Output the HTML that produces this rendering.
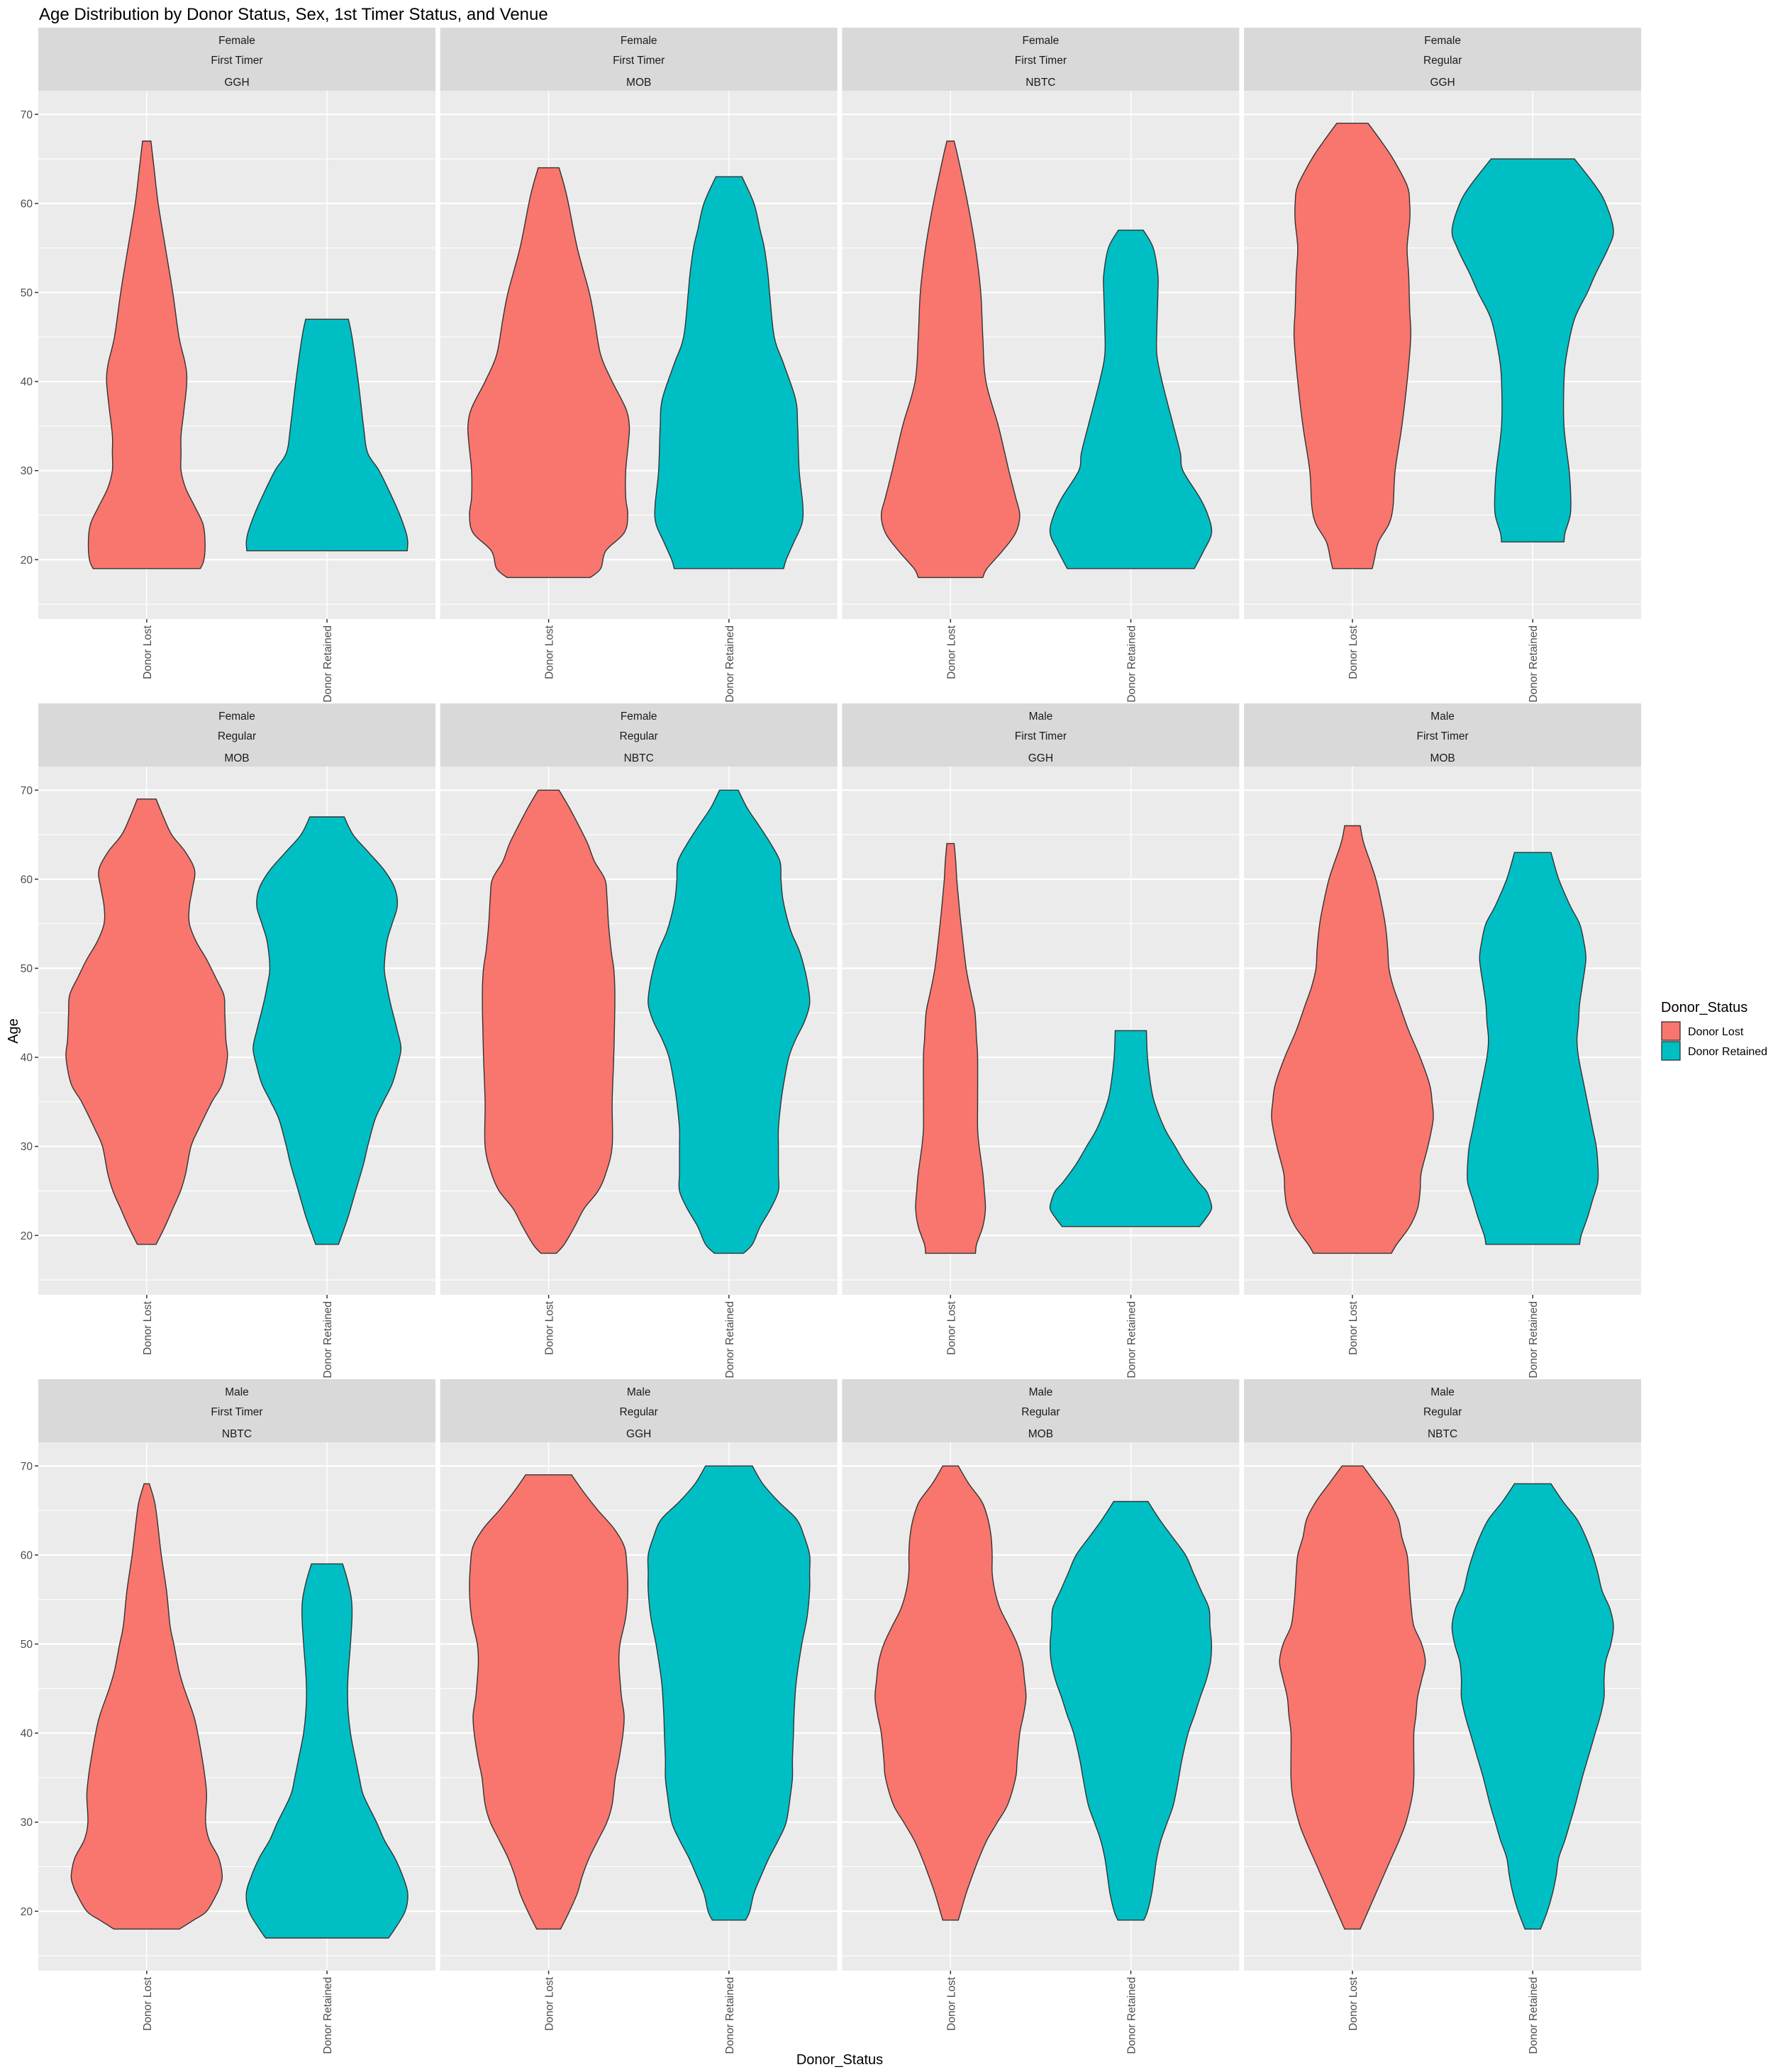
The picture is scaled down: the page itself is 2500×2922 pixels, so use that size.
<!DOCTYPE html>
<html><head><meta charset="utf-8"><style>
html,body{margin:0;padding:0;background:#fff;}
svg{display:block;font-family:"Liberation Sans",Arial,sans-serif;}
</style></head><body>
<svg id="chart" width="2500" height="2922" viewBox="0 0 2500 2922" xmlns="http://www.w3.org/2000/svg">
<text x="55" y="28" font-size="24" fill="#000">Age Distribution by Donor Status, Sex, 1st Timer Status, and Venue</text>
<g id="panels"></g>
<text x="1184" y="2911" font-size="20" text-anchor="middle" fill="#000">Donor_Status</text>
<text transform="translate(25,1454) rotate(-90)" font-size="20" text-anchor="middle" fill="#000">Age</text>
<g>
<text x="2342" y="1427" font-size="20" fill="#000">Donor_Status</text>
<rect x="2343" y="1441" width="26" height="26" fill="#F8766D" stroke="#333" stroke-width="1.3"/>
<rect x="2343" y="1469" width="26" height="26" fill="#00BFC4" stroke="#333" stroke-width="1.3"/>
<text x="2380" y="1460" font-size="16" fill="#000">Donor Lost</text>
<text x="2380" y="1488" font-size="16" fill="#000">Donor Retained</text>
</g>
</svg>
<script>
const facetSex = ["Female","Female","Female","Female","Female","Female","Male","Male","Male","Male","Male","Male"];
const facetTimer = ["First Timer","First Timer","First Timer","Regular","Regular","Regular","First Timer","First Timer","First Timer","Regular","Regular","Regular"];
const facetVenue = ["GGH","MOB","NBTC","GGH","MOB","NBTC","GGH","MOB","NBTC","GGH","MOB","NBTC"];
const categories = ["Donor Lost","Donor Retained"];
const yTicks = [20,30,40,50,60,70];
const yMinor = [15,25,35,45,55,65];
const maxDensity = 156;
const lostAges = [
 [67,64,60,55,50,45,42,40,37,34,32,30,28,26,24,22,20,19],
 [64,62,60,55,50,47,43,40,37,35,33,30,27,25,23,21,19,18],
 [67,65,60,55,50,45,40,35,30,27,25,23,21,19,18],
 [69,67,65,62,60,58,55,52,48,45,40,35,30,26,24,22,20,19],
 [69,67,65,63,61,59,57,55,53,51,49,47,45,42,40,37,35,32,30,27,25,23,21,19],
 [70,68,66,64,62,60,58,55,52,50,48,45,40,35,30,27,25,23,21,19,18],
 [64,62,60,58,55,50,47,45,42,40,35,32,30,27,25,23,21,19,18],
 [66,64,60,56,54,52,50,48,46,43,40,37,35,33,30,27,25,23,21,19,18],
 [68,66,64,60,56,52,50,47,45,42,40,37,35,33,30,28,26,24,23,22,20,19,18],
 [69,67,65,63,61,59,56,53,50,48,46,44,42,40,37,35,32,30,28,26,24,22,20,18],
 [70,68,66,64,62,60,58,56,54,52,50,48,46,44,42,40,37,35,32,30,28,26,24,22,19],
 [70,68,66,64,62,60,58,56,54,52,50,48,46,44,42,40,37,35,33,30,28,26,24,22,20,18]
];
const lostDens = [
 [8,14,22,36,50,62,74,77,72,66,66,66,75,92,108,112,110,103],
 [20,30,38,55,78,88,100,122,148,155,153,148,148,152,145,110,100,80],
 [7,15,33,48,58,62,68,92,112,125,133,125,100,70,62],
 [30,55,78,105,110,110,105,108,110,112,105,95,82,78,70,50,42,38],
 [18,32,48,75,92,88,82,82,95,115,132,148,150,152,155,145,125,100,85,75,65,50,35,18],
 [20,40,58,75,88,108,112,115,120,125,127,127,125,122,122,110,95,68,50,30,15],
 [7,10,12,15,20,30,40,47,50,52,52,52,55,62,65,67,62,50,48],
 [15,22,45,60,65,68,70,78,90,108,130,148,153,155,145,132,130,125,110,85,75],
 [5,15,20,28,38,45,52,62,72,90,98,107,112,115,113,120,138,145,142,135,115,90,63],
 [44,68,95,125,145,150,152,148,137,135,137,140,145,143,135,128,122,112,95,78,65,55,40,23],
 [15,35,60,72,78,80,80,85,95,112,128,138,142,145,140,133,128,125,110,90,70,55,42,30,15],
 [20,45,70,88,95,105,108,110,113,118,133,140,133,125,122,118,118,118,115,103,90,75,60,45,30,15]
];
const retAges = [
 [47,45,40,35,32,30,27,25,23,22,21],
 [63,60,57,55,52,50,45,42,38,35,30,26,24,22,20,19],
 [57,55,52,50,46,43,40,35,32,30,27,25,23,21,19],
 [65,62,60,57,55,52,50,47,43,40,35,30,27,25,23,22],
 [67,65,63,61,59,57,55,53,50,48,46,43,41,39,37,35,33,30,28,25,22,19],
 [70,68,66,64,62,60,58,56,54,52,50,48,46,44,42,40,37,35,32,30,27,25,23,21,19,18],
 [43,40,37,35,32,30,28,26,25,24,23,22,21],
 [63,60,57,55,53,51,48,46,44,42,40,37,35,32,30,28,26,24,22,20,19],
 [59,57,55,53,50,46,43,40,37,35,33,30,28,26,24,22,20,18,17],
 [70,68,66,64,62,60,58,56,53,50,47,45,42,40,37,35,33,30,28,26,24,22,20,19],
 [66,64,62,60,58,56,54,52,50,48,46,44,42,40,37,35,32,30,28,26,24,22,20,19],
 [68,66,64,62,60,58,56,54,52,50,48,46,44,42,40,37,35,32,30,28,26,24,22,20,18]
];
const retDens = [
 [41,48,60,70,78,100,125,140,152,155,154],
 [25,48,60,68,75,78,87,105,128,132,135,142,140,125,110,105],
 [24,43,52,52,50,50,60,82,95,100,132,148,155,140,122],
 [80,120,140,155,145,120,105,80,65,60,60,70,73,72,62,60],
 [33,50,80,110,130,135,125,115,110,115,122,135,142,135,125,108,92,78,70,55,40,22],
 [18,35,58,80,98,100,103,110,120,135,145,152,155,145,128,115,105,100,95,95,95,95,80,60,45,28],
 [30,32,38,45,65,85,105,130,145,152,155,145,132],
 [35,50,72,90,98,102,95,90,88,85,88,98,105,115,122,125,125,115,105,93,90],
 [30,40,47,48,45,40,40,45,55,62,70,95,110,130,145,155,150,130,118],
 [45,65,95,130,145,155,155,155,150,140,132,128,125,124,122,122,118,110,95,77,62,48,40,32],
 [33,55,80,105,120,135,150,152,155,153,145,133,122,110,98,92,82,70,58,50,45,40,32,25],
 [35,58,85,102,115,125,133,148,155,150,140,137,137,130,120,105,95,82,72,62,50,45,38,28,15]
];

const NS = "http://www.w3.org/2000/svg";
const root = document.getElementById("panels");
const PANEL_W = 560, PANEL_H = 745, STRIP_H = 89;
const colLeft = i => 54 + i * 566.7;
const rowStrip = r => 39 + r * 953;
const yTop = 72.65, pxPerYear = 12.56;
const maxHalf = 0.45 * PANEL_W / 2.2;
function el(tag, attrs, parent) {
  const e = document.createElementNS(NS, tag);
  for (const k in attrs) e.setAttribute(k, attrs[k]);
  parent.appendChild(e);
  return e;
}
function violinPath(ages, dens, cx, yScale) {
  const pts = ages.map((a, i) => [a, dens[i]]).sort((p, q) => q[0] - p[0]);
  const right = pts.map(p => [cx + maxHalf * p[1] / maxDensity, yScale(p[0])]);
  const left = pts.slice().reverse().map(p => [cx - maxHalf * p[1] / maxDensity, yScale(p[0])]);
  function smooth(arr) {
    let d = "";
    for (let i = 0; i < arr.length - 1; i++) {
      const p0 = arr[Math.max(0, i - 1)], p1 = arr[i], p2 = arr[i + 1], p3 = arr[Math.min(arr.length - 1, i + 2)];
      const c1 = [p1[0] + (p2[0] - p0[0]) / 6, p1[1] + (p2[1] - p0[1]) / 6];
      const c2 = [p2[0] - (p3[0] - p1[0]) / 6, p2[1] - (p3[1] - p1[1]) / 6];
      d += ` C${c1[0].toFixed(1)},${c1[1].toFixed(1)} ${c2[0].toFixed(1)},${c2[1].toFixed(1)} ${p2[0].toFixed(1)},${p2[1].toFixed(1)}`;
    }
    return d;
  }
  return `M${right[0][0].toFixed(1)},${right[0][1].toFixed(1)}` + smooth(right) +
    ` L${left[0][0].toFixed(1)},${left[0][1].toFixed(1)}` + smooth(left) + " Z";
}
for (let f = 0; f < 12; f++) {
  const c = f % 4, r = Math.floor(f / 4);
  const x0 = colLeft(c), sy = rowStrip(r), py = sy + STRIP_H;
  const yScale = a => py + (yTop - a) * pxPerYear;
  const xPos = k => x0 + PANEL_W * (k === 0 ? 0.273 : 0.727);
  const g = el("g", {}, root);
  
  
  const strip = el("rect", {x: x0, y: sy, width: PANEL_W, height: STRIP_H, fill: "#D9D9D9"}, g);
  
  
  [facetSex[f], facetTimer[f], facetVenue[f]].forEach((t, i) => {
    const tx = el("text", {x: x0 + PANEL_W / 2, y: sy + [23, 51, 82][i], "font-size": 15.5, "text-anchor": "middle", fill: "#1A1A1A"}, g);
    tx.textContent = t;
    
    
  });
  const bg = el("rect", {x: x0, y: py, width: PANEL_W, height: PANEL_H, fill: "#EBEBEB"}, g);
  
  
  yMinor.forEach(v => {
    const l = el("line", {x1: x0, x2: x0 + PANEL_W, y1: yScale(v), y2: yScale(v), stroke: "#fff", "stroke-width": 1.1}, g);
    
    
  });
  yTicks.forEach(v => {
    const l = el("line", {x1: x0, x2: x0 + PANEL_W, y1: yScale(v), y2: yScale(v), stroke: "#fff", "stroke-width": 2.2}, g);
    
    
  });
  categories.forEach((cat, k) => {
    const l = el("line", {x1: xPos(k), x2: xPos(k), y1: py, y2: py + PANEL_H, stroke: "#fff", "stroke-width": 1.4}, g);
    
    
  });
  const v1 = el("path", {d: violinPath(lostAges[f], lostDens[f], xPos(0), yScale), fill: "#F8766D", stroke: "#333333", "stroke-width": 1.4}, g);
  
  
  const v2 = el("path", {d: violinPath(retAges[f], retDens[f], xPos(1), yScale), fill: "#00BFC4", stroke: "#333333", "stroke-width": 1.4}, g);
  
  
  categories.forEach((cat, k) => {
    const t = el("line", {x1: xPos(k), x2: xPos(k), y1: py + PANEL_H, y2: py + PANEL_H + 5, stroke: "#333", "stroke-width": 1.5}, g);
    
    
    const lb = el("text", {transform: `translate(${xPos(k) + 6},${py + PANEL_H + 9}) rotate(-90)`, "font-size": 15.5, "text-anchor": "end", fill: "#4D4D4D"}, g);
    lb.textContent = cat;
    
    
  });
  if (c === 0) {
    yTicks.forEach(v => {
      const t = el("line", {x1: x0 - 5, x2: x0, y1: yScale(v), y2: yScale(v), stroke: "#333", "stroke-width": 1.5}, g);
      
      
      const lb = el("text", {x: x0 - 8, y: yScale(v) + 5.5, "font-size": 15.5, "text-anchor": "end", fill: "#4D4D4D"}, g);
      lb.textContent = v;
      
      
    });
  }
}
</script>
</body></html>
